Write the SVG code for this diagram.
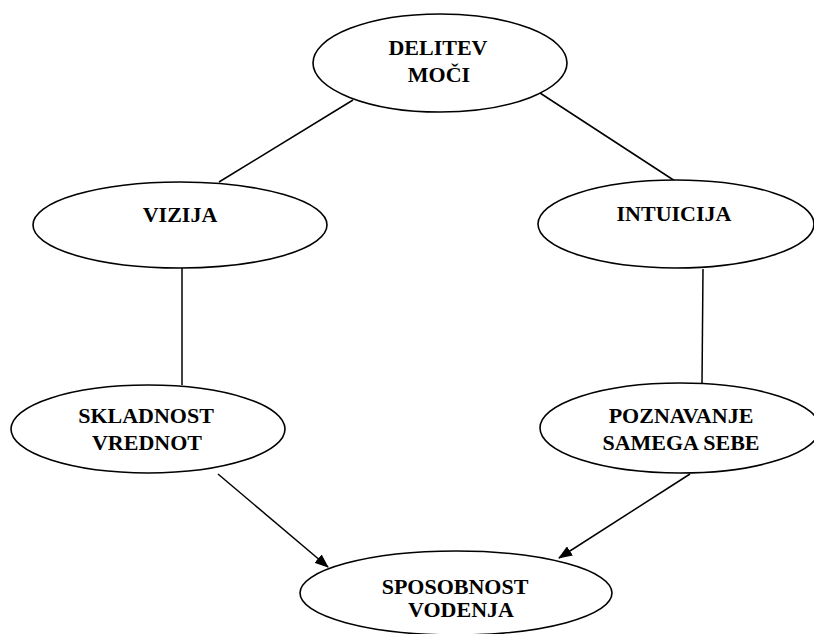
<svg xmlns="http://www.w3.org/2000/svg" width="814" height="634" viewBox="0 0 814 634">
  <style>
    .node ellipse { fill: #ffffff; stroke: #000000; stroke-width: 1.6; }
    .node text { font-family: "Liberation Serif", "Times New Roman", serif; font-weight: bold; font-size: 22px; fill: #000000; text-anchor: middle; }
    .edge { stroke: #000000; stroke-width: 1.5; fill: none; }
  </style>
  <defs>
    <marker id="arrow" markerWidth="14" markerHeight="11" refX="13" refY="5.5" orient="auto" markerUnits="userSpaceOnUse">
      <path d="M0,0 L14,5.5 L0,11 Z" fill="#000000"/>
    </marker>
  </defs>
  <rect width="814" height="634" fill="#ffffff"/>

  <g id="connectors">
    <line class="edge" x1="353" y1="100" x2="219" y2="182"/>
    <line class="edge" x1="540" y1="93" x2="675" y2="181"/>
    <line class="edge" x1="182" y1="268" x2="182" y2="385"/>
    <line class="edge" x1="703" y1="269" x2="702" y2="383"/>
    <line class="edge" x1="218" y1="474" x2="328" y2="567" marker-end="url(#arrow)"/>
    <line class="edge" x1="690" y1="474" x2="559" y2="558" marker-end="url(#arrow)"/>
  </g>

  <g id="delitev-moci" class="node">
    <ellipse cx="440" cy="63" rx="127" ry="49"/>
    <text x="438" y="55">DELITEV</text>
    <text x="439" y="82">MOČI</text>
  </g>

  <g id="vizija" class="node">
    <ellipse cx="180" cy="225" rx="147" ry="43"/>
    <text x="180" y="222">VIZIJA</text>
  </g>

  <g id="intuicija" class="node">
    <ellipse cx="676" cy="224" rx="138" ry="44"/>
    <text x="674" y="221">INTUICIJA</text>
  </g>

  <g id="skladnost-vrednot" class="node">
    <ellipse cx="148" cy="429" rx="137" ry="44"/>
    <text x="146" y="423">SKLADNOST</text>
    <text x="147" y="450">VREDNOT</text>
  </g>

  <g id="poznavanje-samega-sebe" class="node">
    <ellipse cx="680" cy="428" rx="140" ry="45"/>
    <text x="681" y="423">POZNAVANJE</text>
    <text x="681" y="450">SAMEGA SEBE</text>
  </g>

  <g id="sposobnost-vodenja" class="node">
    <ellipse cx="456" cy="593" rx="156" ry="42"/>
    <text x="455" y="594">SPOSOBNOST</text>
    <text x="461" y="617">VODENJA</text>
  </g>
</svg>
